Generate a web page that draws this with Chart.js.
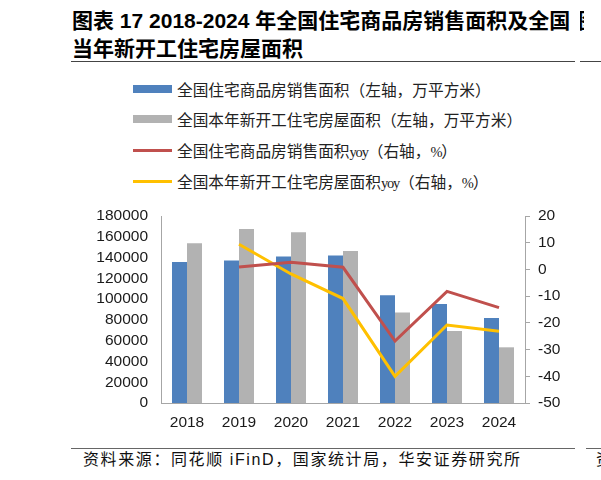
<!DOCTYPE html>
<html>
<head>
<meta charset="utf-8">
<script src="https://cdn.jsdelivr.net/npm/chart.js@4.4.1/dist/chart.umd.min.js"></script>
<style>
  html, body { margin: 0; padding: 0; }
  body { width: 601px; height: 480px; position: relative; overflow: hidden; background: #fff;
         font-family: "Liberation Sans", "Noto Sans CJK SC", sans-serif; color: #000;
         text-spacing-trim: space-all; font-feature-settings: "chws" 0, "halt" 0; }
  .t { position: absolute; white-space: nowrap; }
  .title { font-weight: bold; font-size: 21px; line-height: 27px; }
  .clip { position: absolute; overflow: hidden; }
  .rule { position: absolute; height: 0; border-top: 1.5px solid #444; }
  .item { position: absolute; left: 133px; height: 20px; display: flex; align-items: center; white-space: nowrap;
          font-family: "Noto Sans CJK SC", sans-serif; font-size: 15.7px; color: #222; }
  .lat { font-family: "Liberation Serif", serif; font-size: 14.5px; letter-spacing: -1.2px; }
  .sw { width: 39px; margin-right: 5px; flex: none; }
  .src { font-family: "Liberation Sans", "Noto Sans CJK SC", sans-serif; font-size: 16px; letter-spacing: 1.6px; line-height: 20px; color: #111; }
  #box { position: absolute; left: 80px; top: 200px; width: 500px; height: 240px; }
</style>
</head>
<body>
<div class="t title" style="left:72px; top:7px;">图表 17 2018-2024 年全国住宅商品房销售面积及全国</div>
<div class="t title" style="left:72px; top:34.5px;">当年新开工住宅房屋面积</div>
<div class="clip" style="left:580px; top:7px; width:4px; height:27px;"><div class="t title" style="left:-2px; top:0;">图</div></div>
<div class="rule" style="left:71px; top:61px; width:504px;"></div>
<div class="rule" style="left:580px; top:61px; width:21px;"></div>

<div id="legend"></div>

<div id="box"><canvas id="chart"></canvas></div>

<div class="rule" style="left:71px; top:448px; width:504px; border-top-color:#666;"></div>
<div class="rule" style="left:586px; top:448px; width:15px; border-top-color:#666;"></div>
<div class="t src" style="left:83px; top:450px;">资料来源：同花顺 iFinD，国家统计局，华安证券研究所</div>
<div class="t src" style="left:596px; top:450px;">资料</div>

<script>
const years = ["2018", "2019", "2020", "2021", "2022", "2023", "2024"];
const salesArea = [135700, 137100, 140900, 141900, 103700, 95300, 81800];
const newStartArea = [153700, 167500, 164300, 146300, 87000, 69300, 53600];
const salesYoy = [null, 0.9, 2.7, 0.8, -26.8, -8.2, -14.3];
const newStartYoy = [null, 9.4, -1.7, -10.9, -40.0, -20.8, -23.1];
const leftTicks = [0, 20000, 40000, 60000, 80000, 100000, 120000, 140000, 160000, 180000];
const rightTicks = [-50, -40, -30, -20, -10, 0, 10, 20];

const seriesNames = [
  "全国住宅商品房销售面积（左轴，万平方米）",
  "全国本年新开工住宅房屋面积（左轴，万平方米）",
  "全国住宅商品房销售面积yoy（右轴，%）",
  "全国本年新开工住宅房屋面积yoy（右轴，%）"
];
const seriesColors = ["#4F81BD", "#B2B2B2", "#C0504D", "#FFC000"];

// legend, one row per series; latin bits in a narrow serif like the original
const legendY = [89.3, 119.3, 150.7, 181.7];
const legend = document.getElementById("legend");
seriesNames.forEach((name, i) => {
  const row = document.createElement("div");
  row.className = "item";
  row.style.top = (legendY[i] - 10) + "px";
  const sw = document.createElement("span");
  sw.className = "sw";
  sw.style.height = i < 2 ? "8px" : "3px";
  sw.style.background = seriesColors[i];
  row.appendChild(sw);
  const tx = document.createElement("span");
  name.split(/(yoy|%)/).forEach((part) => {
    if (!part) return;
    if (part === "yoy" || part === "%") {
      const s = document.createElement("span");
      s.className = "lat";
      s.textContent = part;
      tx.appendChild(s);
    } else {
      tx.appendChild(document.createTextNode(part));
    }
  });
  row.appendChild(tx);
  legend.appendChild(row);
});

const axisGray = "#A6A6A6";
const tickFont = { family: "Liberation Sans", size: 15.5 };

new Chart(document.getElementById("chart"), {
  data: {
    labels: years,
    datasets: [
      { type: "line", label: seriesNames[2], data: salesYoy, yAxisID: "y1", order: 0,
        borderColor: seriesColors[2], borderWidth: 3, pointRadius: 0, tension: 0 },
      { type: "line", label: seriesNames[3], data: newStartYoy, yAxisID: "y1", order: 0,
        borderColor: seriesColors[3], borderWidth: 3, pointRadius: 0, tension: 0 },
      { type: "bar", label: seriesNames[0], data: salesArea, yAxisID: "y", order: 1,
        backgroundColor: seriesColors[0], barPercentage: 1, categoryPercentage: 0.577 },
      { type: "bar", label: seriesNames[1], data: newStartArea, yAxisID: "y", order: 1,
        backgroundColor: seriesColors[1], barPercentage: 1, categoryPercentage: 0.577 }
    ]
  },
  options: {
    responsive: true,
    maintainAspectRatio: false,
    animation: false,
    events: [],
    layout: { padding: { top: 16, left: 0, right: 0, bottom: 0 } },
    plugins: { legend: { display: false }, tooltip: { enabled: false } },
    scales: {
      x: {
        grid: { display: false, drawTicks: false },
        border: { display: true, color: axisGray, width: 1 },
        ticks: { font: tickFont, color: "#1a1a1a", padding: 10, maxRotation: 0 },
        afterFit: (s) => { s.height = 37; }
      },
      y: {
        position: "left",
        min: 0, max: 180000,
        grid: { display: false, drawTicks: false },
        border: { display: true, color: axisGray, width: 1 },
        ticks: { font: tickFont, color: "#1a1a1a", padding: 13, autoSkip: false, callback: (v) => String(v) },
        afterBuildTicks: (s) => { s.ticks = leftTicks.map((v) => ({ value: v })); },
        afterFit: (s) => { s.width = 81; s.paddingTop = 0; s.paddingBottom = 0; }
      },
      y1: {
        position: "right",
        min: -50, max: 20,
        grid: { display: true, drawOnChartArea: false, drawTicks: true, tickLength: 5, color: axisGray },
        border: { display: true, color: axisGray, width: 1 },
        ticks: { font: tickFont, color: "#1a1a1a", padding: 8, autoSkip: false, callback: (v) => String(v) },
        afterBuildTicks: (s) => { s.ticks = rightTicks.map((v) => ({ value: v })); },
        afterFit: (s) => { s.width = 55; s.paddingTop = 0; s.paddingBottom = 0; }
      }
    }
  }
});
</script>
</body>
</html>
